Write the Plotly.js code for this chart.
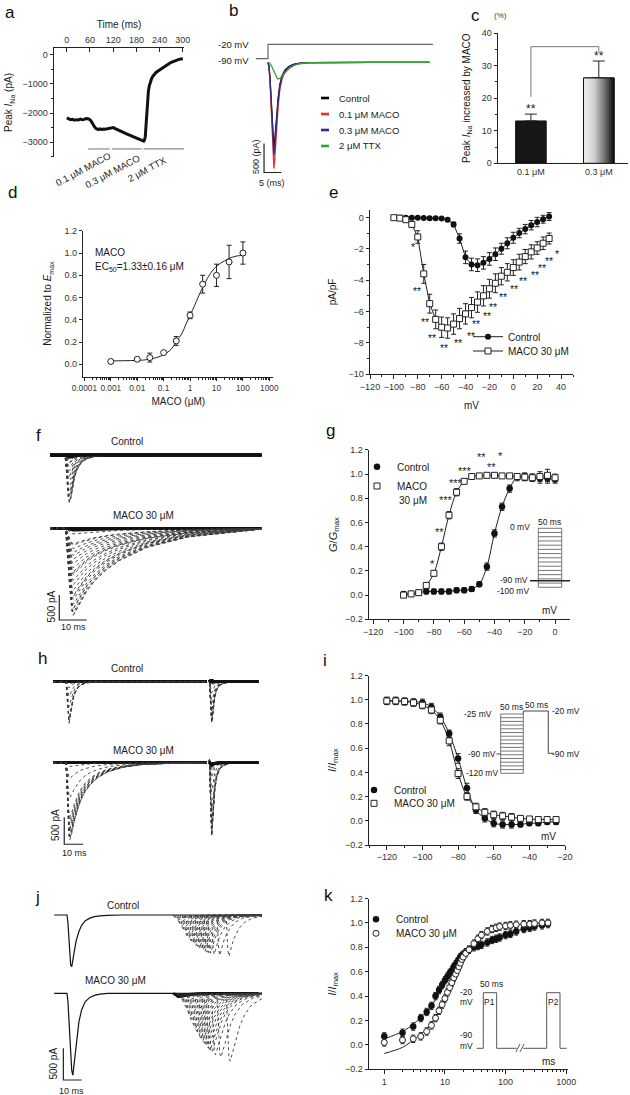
<!DOCTYPE html>
<html>
<head>
<meta charset="utf-8">
<script src="https://cdn.plot.ly/plotly-3.0.1.min.js"></script>
<style>
html,body{margin:0;padding:0;background:#ffffff;}
#fig{width:630px;height:1095px;}
</style>
</head>
<body>
<div id="fig"></div>
<script>
// ================= DATA =================
// (a) peak INa time course
const aTime = [0,5,10,15,20,25,30,35,40,45,50,55,60,63,66,69,72,75,78,81,85,90,95,100,105,110,115,118,121,124,128,132,136,140,145,150,155,160,165,170,175,180,185,190,194,197,199,201,203,205,207,209,211,213,216,219,222,226,230,235,240,245,250,255,260,265,270,275,280,285,290,295,300];
const aPeakINa = [-2170,-2210,-2230,-2220,-2250,-2230,-2240,-2210,-2230,-2220,-2190,-2200,-2230,-2280,-2360,-2430,-2480,-2530,-2560,-2570,-2550,-2570,-2550,-2560,-2540,-2530,-2510,-2490,-2500,-2530,-2560,-2590,-2620,-2640,-2660,-2690,-2720,-2750,-2780,-2810,-2840,-2870,-2890,-2920,-2940,-2960,-2970,-2930,-2800,-2400,-1900,-1500,-1250,-1080,-930,-820,-740,-670,-610,-560,-510,-470,-420,-380,-330,-290,-250,-220,-190,-160,-150,-140,-130];
const aDrugLabels = ['0.1 μM MACO','0.3 μM MACO','2 μM TTX'];
const aDrugStart = [55,117,198];
const aDrugEnd = [111,194,303];

// (b) representative INa traces (ms, pA) and command step (ms, mV)
const bNames = ['Control','0.1 μM MACO','0.3 μM MACO','2 μM TTX'];
const bTime = [0,0.3,0.6,0.9,1.2,1.5,1.7,1.9,2.2,2.5,2.9,3.4,4.0,4.9,6.0,7.3,9.2,12,20,30,46.5];
const bControl = [0,-74,-296,-666,-1066,-1376,-1480,-1376,-1110,-888,-622,-385,-237,-133,-74,-37,-15,-6,0,0,0];
const bMaco01 = [0,-92,-366,-824,-1318,-1702,-1830,-1702,-1373,-1098,-769,-476,-293,-165,-92,-46,-18,-7,0,0,0];
const bMaco03 = [0,-80,-320,-720,-1152,-1488,-1600,-1488,-1200,-960,-672,-416,-256,-144,-80,-40,-16,-6,0,0,0];
const bTtxTime = [0,0.5,1,1.5,2,2.5,2.9,3.4,4,5,6,7.5,9,12,20,30,46.5];
const bTtx = [0,-15,-60,-130,-200,-260,-288,-275,-240,-170,-110,-55,-25,-8,0,0,0];
const bCmdTime = [-3.5,0,0,47.5];
const bCmdVolt = [-90,-90,-20,-20];

// (c) % increase of peak INa
const cDose = ['0.1 μM','0.3 μM'];
const cIncrease = [13.0,26.2];
const cSEM = [2.1,5.2];
const cSig = ['**','**'];
const cSigBetween = '##';

// (d) concentration-response
const dConc = [0.001,0.01,0.03,0.1,0.3,1,3,10,30,100];
const dNorm = [0.025,0.045,0.06,0.105,0.21,0.44,0.72,0.80,0.92,1.0];
const dSEM = [0.015,0.015,0.04,0.01,0.04,0.03,0.08,0.10,0.15,0.10];
const dFitConc = [0.001,0.003,0.01,0.03,0.1,0.2,0.3,0.5,0.7,1,1.5,2,3,5,7,10,20,50,100,130];
const dFitNorm = [0.03,0.032,0.035,0.045,0.085,0.14,0.2,0.28,0.36,0.44,0.53,0.6,0.69,0.79,0.84,0.88,0.93,0.97,0.98,0.985];

// (e) I-V relationship (pA/pF)
const eVolt = [-100,-95,-90,-85,-80,-75,-70,-65,-60,-55,-50,-45,-40,-35,-30,-25,-20,-15,-10,-5,0,5,10,15,20,25,30];
const eCtrl = [-0.02,-0.03,-0.02,-0.03,-0.03,-0.04,-0.05,-0.06,-0.08,-0.15,-0.45,-1.35,-2.55,-3.0,-3.05,-2.9,-2.65,-2.35,-2.0,-1.65,-1.3,-1.0,-0.75,-0.5,-0.3,-0.12,0.05];
const eCtrlSEM = [0.05,0.05,0.05,0.05,0.05,0.05,0.05,0.05,0.05,0.08,0.15,0.3,0.4,0.4,0.4,0.4,0.4,0.4,0.35,0.35,0.35,0.3,0.3,0.3,0.3,0.25,0.25];
const eMaco = [-0.02,-0.05,-0.15,-0.45,-1.25,-3.6,-5.5,-6.5,-7.0,-7.05,-6.8,-6.45,-6.15,-5.75,-5.4,-5.0,-4.55,-4.2,-3.75,-3.5,-3.2,-2.85,-2.5,-2.2,-1.95,-1.65,-1.35];
const eMacoSEM = [0.1,0.1,0.15,0.2,0.4,0.6,0.6,0.6,0.65,0.65,0.65,0.65,0.65,0.65,0.65,0.65,0.6,0.6,0.55,0.55,0.5,0.5,0.45,0.45,0.4,0.4,0.35];

// (f) current families (template time course, ms; normalized shape)
const fTime = [-5.5,0,0.4,0.8,1.2,1.6,2.0,2.5,3,3.5,4.5,6,8,11,15,20,30,45,72];
const fCtrlShape = [0,0,-0.25,-0.6,-0.88,-1,-0.95,-0.8,-0.62,-0.47,-0.3,-0.16,-0.08,-0.03,-0.01,0,0,0,0];
const fMacoShape = [0,0,-0.08,-0.22,-0.42,-0.62,-0.8,-0.94,-1,-0.98,-0.92,-0.83,-0.72,-0.6,-0.48,-0.37,-0.22,-0.1,-0.01];
const fCtrlPeakPA = 950;
const fMacoPeakPA = 1740;

// (g) activation curves
const gVolt = [-100,-95,-90,-85,-80,-75,-70,-65,-60,-55,-50,-45,-40,-35,-30,-25,-20,-15,-10,-5,0];
const gCtrl = [0.01,0.01,0.02,0.03,0.03,0.03,0.03,0.04,0.04,0.05,0.09,0.235,0.51,0.73,0.88,0.975,0.98,0.97,0.965,0.965,0.955];
const gCtrlSEM = [0.02,0.02,0.02,0.02,0.02,0.02,0.02,0.02,0.02,0.02,0.02,0.03,0.03,0.03,0.03,0.03,0.03,0.03,0.04,0.04,0.03];
const gMaco = [0.0,0.01,0.02,0.08,0.18,0.40,0.66,0.85,0.94,0.98,0.985,0.99,0.99,0.985,0.985,0.98,0.975,0.97,0.98,0.99,0.97];
const gMacoSEM = [0.02,0.02,0.02,0.02,0.02,0.03,0.03,0.03,0.02,0.02,0.02,0.02,0.02,0.02,0.02,0.02,0.03,0.03,0.04,0.05,0.03];

// (h) inactivation protocol traces
const hP1Time = [-6.7,0,0.4,0.8,1.2,1.6,2.0,2.6,3.2,4,5,6.5,8,10,13,17,22,30,40,55,74];
const hCtrlP1Shape = [0,0,-0.25,-0.6,-0.9,-1,-0.92,-0.72,-0.55,-0.38,-0.25,-0.14,-0.08,-0.04,-0.015,-0.005,0,0,0,0,0];
const hMacoP1Shape = [0,0,-0.2,-0.5,-0.8,-0.95,-1,-0.96,-0.9,-0.8,-0.7,-0.58,-0.48,-0.38,-0.28,-0.19,-0.12,-0.06,-0.025,-0.008,0];
const hCtrlP1Frac = [0,0,0,0,0,0,0,0,0,0,0,0,0.05,0.15,0.35,0.6,0.85,1,0.98,0.92];
const hMacoP1Frac = [0,0,0,0,0,0,0,0.05,0.2,0.45,0.7,0.85,0.95,1,0.98,0.95,0.9,0.85,0.8,0.75];
const hP2Time = [0,0.3,0.6,1.0,1.4,1.8,2.3,3,4,5.5,7.5,10,14,20,26];
const hP2Shape = [0,0.06,-0.3,-0.75,-1,-0.85,-0.6,-0.38,-0.2,-0.09,-0.04,-0.015,-0.005,0,0];
const hP2Onset = 75.3;
const hCtrlP1PeakPA = 770, hCtrlP2PeakPA = 765, hMacoP1PeakPA = 1430, hMacoP2PeakPA = 1370;

// (i) steady-state inactivation
const iVolt = [-120,-115,-110,-105,-100,-95,-90,-85,-80,-75,-70,-65,-60,-55,-50,-45,-40,-35,-30,-25];
const iCtrl = [0.99,0.99,0.99,0.985,0.975,0.94,0.86,0.72,0.515,0.27,0.09,0.02,-0.02,-0.03,-0.03,-0.03,-0.02,-0.02,-0.01,-0.01];
const iCtrlSEM = [0.03,0.03,0.02,0.02,0.03,0.03,0.03,0.03,0.04,0.04,0.03,0.03,0.03,0.03,0.03,0.02,0.02,0.02,0.02,0.02];
const iMaco = [0.99,0.99,0.985,0.975,0.955,0.915,0.83,0.66,0.39,0.2,0.115,0.07,0.05,0.04,0.03,0.02,0.015,0.01,0.01,0.01];
const iMacoSEM = [0.03,0.03,0.03,0.03,0.03,0.03,0.03,0.04,0.04,0.03,0.03,0.03,0.03,0.03,0.03,0.02,0.02,0.02,0.02,0.02];

// (j) recovery protocol traces
const jP1Time = [-7,0,0.5,1,1.5,2,2.6,3.2,4,5,6.5,8,10,12.5,15,18,22,30,57];
const jCtrlP1Shape = [0,0,-0.15,-0.45,-0.8,-0.97,-1,-0.9,-0.7,-0.5,-0.32,-0.2,-0.11,-0.06,-0.03,-0.015,-0.005,0,0];
const jMacoP1Shape = [0,0,-0.1,-0.3,-0.55,-0.8,-0.95,-1,-0.85,-0.6,-0.35,-0.2,-0.1,-0.05,-0.025,-0.01,0,0,0];
const jP2Time = [0,0.4,0.9,1.5,2.2,3,4,5.5,7.5,10,14,20,30,40];
const jCtrlP2Shape = [0,-0.4,-0.85,-1,-0.9,-0.75,-0.6,-0.45,-0.3,-0.18,-0.08,-0.03,-0.01,0];
const jMacoP2Shape = [0,-0.3,-0.7,-0.95,-1,-0.92,-0.8,-0.65,-0.48,-0.32,-0.17,-0.07,-0.02,0];
const jP1Duration = 57, jEnd = 104.5, jShownMaxInterval = 30;
const jCtrlPeakPA = 815, jMacoPeakPA = 1290;

// (k) recovery from inactivation
const kTime = [1,2,3,4,5,6,7,8,9,10,11,12,13,14,15,16,17,18,19,20,22,25,30,35,40,50,60,70,80,100,120,150,200,250,300,400,500];
const kCtrl = [0.07,0.10,0.15,0.22,0.27,0.32,0.40,0.45,0.49,0.53,0.56,0.59,0.61,0.64,0.66,0.68,0.70,0.72,0.73,0.74,0.76,0.78,0.80,0.81,0.82,0.84,0.86,0.87,0.88,0.90,0.91,0.93,0.95,0.96,0.97,0.98,0.99];
const kMaco = [0.02,0.04,0.05,0.07,0.11,0.16,0.22,0.28,0.33,0.38,0.43,0.47,0.51,0.55,0.58,0.61,0.64,0.67,0.70,0.72,0.75,0.78,0.83,0.87,0.90,0.93,0.95,0.96,0.97,0.975,0.98,0.985,0.99,0.99,0.995,1.0,1.0];
const kSEM = 0.03;
const kFitTime = [1,2,3,5,7,10,15,20,30,50,100,200,500];
const kCtrlFit = [0.05,0.11,0.17,0.27,0.37,0.5,0.63,0.71,0.79,0.85,0.91,0.95,0.99];
const kMacoFit = [-0.07,-0.02,0.04,0.13,0.23,0.38,0.57,0.69,0.82,0.92,0.97,0.99,1.0];

// ================= BUILD =================
const W = 630, H = 1095;
const FONT = 'Liberation Sans, Arial, Helvetica, sans-serif';
const INK = '#1a1a1a';
const px = x => x / W;
const py = y => 1 - y / H;
const xd = (a, b) => [a / W, b / W];
const yd = (t, b) => [1 - b / H, 1 - t / H];

const traces = [], shapes = [], annotations = [];
function note(text, x, y, o) {
  o = o || {};
  const font = Object.assign({family: FONT, size: 10, color: INK}, o.font || {});
  const a = Object.assign({text: text, x: px(x), y: py(y), xref: 'paper', yref: 'paper', showarrow: false, xanchor: 'center', yanchor: 'middle'}, o);
  a.font = font;
  annotations.push(a);
}
function dnote(text, xr, yr, x, y, o) {
  o = o || {};
  const font = Object.assign({family: FONT, size: 10, color: INK}, o.font || {});
  const a = Object.assign({text: text, x: x, y: y, xref: xr, yref: yr, showarrow: false, xanchor: 'center', yanchor: 'middle'}, o);
  a.font = font;
  annotations.push(a);
}
function pth(pts) { return pts.map(p => p[0] + px(p[1]).toFixed(5) + ',' + py(p[2]).toFixed(5)).join(' '); }
function pshape(pts, color, width) {
  shapes.push({type: 'path', xref: 'paper', yref: 'paper', path: pth(pts), line: {color: color || '#444', width: width || 1}});
}
function hatch(x0, y0, x1, y1, n, color) {
  let s = pth([['M', x0, y0], ['L', x1, y0], ['L', x1, y1], ['L', x0, y1]]) + ' Z';
  for (let k = 1; k < n; k++) {
    const y = y0 + k * (y1 - y0) / n;
    s += ' ' + pth([['M', x0, y], ['L', x1, y]]);
  }
  shapes.push({type: 'path', xref: 'paper', yref: 'paper', path: s, line: {color: color || '#555', width: 0.8}});
}
const base = {showlegend: false, hoverinfo: 'skip'};
const L = (o) => Object.assign({}, base, o);

// ---- panel letters
[['a',10,13],['b',233,10],['c',475,15],['d',12,193],['e',333,193],['f',38,435],['g',330,430],['h',43,658],['i',325,660],['j',37,897],['k',328,895]]
  .forEach(l => note(l[0], l[1], l[2], {font: {size: 17, color: '#111'}}));

// ---- (a)
traces.push(L({x: aTime, y: aPeakINa, xaxis: 'x', yaxis: 'y', mode: 'lines', line: {color: '#111', width: 3}}));
const aBarLevel = -3240;
aDrugStart.forEach((s, i) => shapes.push({type: 'line', xref: 'x', yref: 'y', x0: s, x1: aDrugEnd[i], y0: aBarLevel, y1: aBarLevel, line: {color: '#8a8a8a', width: 1.2}}));
const aLabelPos = [[82.5,169.5],[112,171],[146.5,169.5]];
aDrugLabels.forEach((t, i) => note(t, aLabelPos[i][0], aLabelPos[i][1], {textangle: -28, font: {size: 9.5}}));

// ---- (b)
traces.push(L({x: bCmdTime, y: bCmdVolt, xaxis: 'x2', yaxis: 'y3', mode: 'lines', line: {color: '#666', width: 1.2}}));
const bColors = ['#000000','#f02a2a','#2e2e8c','#37a237'];
const bSeries = [[bTime, bControl], [bTime, bMaco01], [bTime, bMaco03], [bTtxTime, bTtx]];
bSeries.forEach((s, i) => traces.push(L({x: s[0], y: s[1], name: bNames[i], xaxis: 'x2', yaxis: 'y2', mode: 'lines', line: {color: bColors[i], width: 1.3}})));
const bBar = {t: -1.15, i: -1900, dI: 500, dT: 5};
traces.push(L({x: [bBar.t, bBar.t, bBar.t + bBar.dT], y: [bBar.i + bBar.dI, bBar.i, bBar.i], xaxis: 'x2', yaxis: 'y2', mode: 'lines', line: {color: '#222', width: 1.2}}));
note('-20 mV', 233, 44, {font: {size: 9.5}});
note('-90 mV', 233, 60, {font: {size: 9.5}});
note('500 (pA)', 256, 157, {textangle: -90, font: {size: 9}});
note('5 (ms)', 272, 183, {font: {size: 9}});
const bLegY = [98, 114, 130, 146];
bNames.forEach((n, i) => {
  shapes.push({type: 'line', xref: 'paper', yref: 'paper', x0: px(321), x1: px(329), y0: py(bLegY[i]), y1: py(bLegY[i]), line: {color: bColors[i], width: 2.6}});
  note(n, 337, bLegY[i], {xanchor: 'left', font: {size: 9.5}});
});

// ---- (c)
const cPos = cDose.map((_, i) => i + 1);
const cBarW = 0.45;
traces.push(L({type: 'bar', x: cPos, y: cIncrease, xaxis: 'x3', yaxis: 'y4', width: cBarW,
  marker: {color: ['#161616', 'rgba(0,0,0,0)'], line: {color: '#111', width: 1}},
  error_y: {type: 'data', symmetric: false, array: cSEM, arrayminus: cSEM.map(() => 0), color: '#222', thickness: 1, width: 6}}));
traces.push(L({x: [cPos[1] - cBarW / 2, cPos[1] + cBarW / 2, cPos[1] + cBarW / 2, cPos[1] - cBarW / 2, cPos[1] - cBarW / 2],
  y: [0, 0, cIncrease[1], cIncrease[1], 0], xaxis: 'x3', yaxis: 'y4', mode: 'lines', fill: 'toself',
  fillgradient: {type: 'horizontal', colorscale: [[0, '#f2f2f2'], [0.35, '#cfcfcf'], [0.7, '#6e6e6e'], [1, '#0c0c0c']]},
  line: {color: '#111', width: 1}}));
cSig.forEach((s, i) => dnote(s, 'x3', 'y4', cPos[i], cIncrease[i] + cSEM[i] + 2.4, {yshift: -3, font: {size: 12}}));
shapes.push({type: 'path', xref: 'x3', yref: 'y4', path: 'M1,20.4 L1,35.8 L2,35.8 L2,34.2', line: {color: '#777', width: 1}});
dnote(cSigBetween, 'x3', 'y4', 1.5, 41.3, {font: {size: 9, color: '#666'}});
note('(%)', 501, 16, {font: {size: 8, color: '#444'}});

// ---- (d)
traces.push(L({x: dFitConc, y: dFitNorm, xaxis: 'x4', yaxis: 'y5', mode: 'lines', line: {color: '#222', width: 1, shape: 'spline'}}));
traces.push(L({x: dConc, y: dNorm, xaxis: 'x4', yaxis: 'y5', mode: 'markers',
  marker: {symbol: 'circle', size: 6, color: '#fff', line: {color: '#222', width: 1}},
  error_y: {type: 'data', array: dSEM, color: '#222', thickness: 1, width: 2.5}}));
note('MACO', 93, 253, {xanchor: 'left', font: {size: 10}});
note('EC<sub>50</sub>=1.33±0.16 μM', 93, 267, {xanchor: 'left', font: {size: 10}});

// ---- (e)
traces.push({x: eVolt, y: eCtrl, name: 'Control', legend: 'legend', xaxis: 'x5', yaxis: 'y6', mode: 'lines+markers', hoverinfo: 'skip',
  line: {color: '#222', width: 1}, marker: {symbol: 'circle', size: 6, color: '#111'},
  error_y: {type: 'data', array: eCtrlSEM, color: '#222', thickness: 1, width: 2.5}});
traces.push({x: eVolt, y: eMaco, name: 'MACO 30 μM', legend: 'legend2', xaxis: 'x5', yaxis: 'y6', mode: 'lines+markers', hoverinfo: 'skip',
  line: {color: '#222', width: 1}, marker: {symbol: 'square', size: 6, color: '#fff', line: {color: '#222', width: 1}},
  error_y: {type: 'data', array: eMacoSEM, color: '#222', thickness: 1, width: 2.5}});
const eStars = [[-84,-1.7,'*'],[-81,-4.5,'**'],[-74,-6.5,'**'],[-68.4,-7.5,'**'],[-58,-8.15,'**'],[-46.4,-7.8,'**'],[-35.5,-7.4,'**'],[-31.5,-6.6,'**'],[-21.8,-6.1,'**'],[-16.8,-5.55,'**'],[-8.5,-4.9,'**'],[0.5,-4.4,'**'],[8.3,-3.85,'**'],[18.1,-3.5,'**'],[24,-3.05,'**'],[30,-2.6,'**'],[37,-2.15,'*']];
eStars.forEach(s => dnote(s[2], 'x5', 'y6', s[0], s[1], {yshift: -3, font: {size: 10.5}}));

// ---- sweep helper for raw-current families
const DOT = {color: '#3a3a3a', width: 0.9, dash: 'dot'};
const SOLID = {color: '#111', width: 2.6};
function sweep(xa, ya, xs, ys, frac) {
  traces.push(L({x: xs, y: ys, xaxis: xa, yaxis: ya, mode: 'lines', line: Math.abs(frac) < 0.05 ? SOLID : DOT}));
}

// ---- (f)
const eCtrlMin = Math.min.apply(null, eCtrl), eMacoMin = Math.min.apply(null, eMaco);
eCtrl.forEach(v => { const fr = v / eCtrlMin; sweep('x6', 'y7', fTime, fCtrlShape.map(s => s * fr * fCtrlPeakPA), fr); });
eMaco.forEach(v => { const fr = v / eMacoMin; sweep('x6', 'y8', fTime, fMacoShape.map(s => s * fr * fMacoPeakPA), fr); });
const fBar = {t: -2.1, i: -1834, dI: 500, dT: 10};
traces.push(L({x: [fBar.t, fBar.t, fBar.t + fBar.dT], y: [fBar.i + fBar.dI, fBar.i, fBar.i], xaxis: 'x6', yaxis: 'y8', mode: 'lines', line: {color: '#222', width: 1.2}}));
note('Control', 126.7, 441.7);
note('MACO 30 μM', 143.3, 515);
note('500 pA', 51.7, 606.7, {textangle: -90});
note('10 ms', 73.3, 627.3, {font: {size: 9}});

// ---- (g)
traces.push(L({x: gVolt, y: gCtrl, xaxis: 'x7', yaxis: 'y9', mode: 'lines', line: {color: '#222', width: 1, shape: 'spline'}}));
traces.push(L({x: gVolt, y: gMaco, xaxis: 'x7', yaxis: 'y9', mode: 'lines', line: {color: '#222', width: 1, shape: 'spline'}}));
traces.push({x: gVolt, y: gCtrl, name: 'Control', legend: 'legend3', xaxis: 'x7', yaxis: 'y9', mode: 'markers', hoverinfo: 'skip',
  marker: {symbol: 'circle', size: 6.5, color: '#111'}, error_y: {type: 'data', array: gCtrlSEM, color: '#222', thickness: 1, width: 2.5}});
traces.push({x: gVolt, y: gMaco, name: 'MACO', legend: 'legend4', xaxis: 'x7', yaxis: 'y9', mode: 'markers', hoverinfo: 'skip',
  marker: {symbol: 'square', size: 6, color: '#fff', line: {color: '#222', width: 1}}, error_y: {type: 'data', array: gMacoSEM, color: '#222', thickness: 1, width: 2.5}});
note('30 μM', 397, 500, {xanchor: 'left'});
const gStars = [[-48.4,1.163,'**'],[-35.9,1.171,'*'],[-41.8,1.08,'**'],[-59.5,1.047,'***'],[-65.4,0.95,'***'],[-72,0.81,'***'],[-76.4,0.545,'**'],[-80.8,0.28,'*']];
gStars.forEach(s => dnote(s[2], 'x7', 'y9', s[0], s[1], {yshift: -3, font: {size: 11}}));
hatch(538.3, 528.3, 561.7, 587.3, 14, '#555');
pshape([['M', 530, 580.7], ['L', 570, 580.7]], '#222', 1.5);
note('0 mV', 520, 526.7, {font: {size: 8.5}});
note('50 ms', 549.3, 522, {font: {size: 8.5}});
note('-90 mV', 514, 580, {font: {size: 8.5}});
note('-100 mV', 512.5, 590.5, {font: {size: 8.5}});
note('mV', 549.3, 610, {font: {size: 10}});

// ---- (h)
iVolt.forEach((v, i) => {
  const a1 = hCtrlP1Frac[i], a2 = iCtrl[i];
  sweep('x8', 'y10', hP1Time, hCtrlP1Shape.map(s => s * a1 * hCtrlP1PeakPA), a1);
  sweep('x8', 'y10', hP2Time.map(t => t + hP2Onset), hP2Shape.map(s => s * a2 * hCtrlP2PeakPA), a2);
  const m1 = hMacoP1Frac[i], m2 = iMaco[i];
  sweep('x8', 'y11', hP1Time, hMacoP1Shape.map(s => s * m1 * hMacoP1PeakPA), m1);
  sweep('x8', 'y11', hP2Time.map(t => t + hP2Onset), hP2Shape.map(s => s * m2 * hMacoP2PeakPA), m2);
});
const hBar = {t: -0.9, i: -1511, dI: 500, dT: 10};
traces.push(L({x: [hBar.t, hBar.t, hBar.t + hBar.dT], y: [hBar.i + hBar.dI, hBar.i, hBar.i], xaxis: 'x8', yaxis: 'y11', mode: 'lines', line: {color: '#222', width: 1.2}}));
note('Control', 126.7, 668.3);
note('MACO 30 μM', 143.3, 750);
note('500 pA', 55, 825, {textangle: -90});
note('10 ms', 74, 853.3, {font: {size: 9}});

// ---- (i)
traces.push(L({x: iVolt, y: iCtrl, xaxis: 'x9', yaxis: 'y12', mode: 'lines', line: {color: '#222', width: 1, shape: 'spline'}}));
traces.push(L({x: iVolt, y: iMaco, xaxis: 'x9', yaxis: 'y12', mode: 'lines', line: {color: '#222', width: 1, shape: 'spline'}}));
traces.push({x: iVolt, y: iCtrl, name: 'Control', legend: 'legend5', xaxis: 'x9', yaxis: 'y12', mode: 'markers', hoverinfo: 'skip',
  marker: {symbol: 'circle', size: 6.5, color: '#111'}, error_y: {type: 'data', array: iCtrlSEM, color: '#222', thickness: 1, width: 2.5}});
traces.push({x: iVolt, y: iMaco, name: 'MACO 30 μM', legend: 'legend6', xaxis: 'x9', yaxis: 'y12', mode: 'markers', hoverinfo: 'skip',
  marker: {symbol: 'square', size: 6, color: '#fff', line: {color: '#222', width: 1}}, error_y: {type: 'data', array: iMacoSEM, color: '#222', thickness: 1, width: 2.5}});
hatch(500.7, 714, 523.3, 773.3, 16, '#555');
pshape([['M', 523.3, 714], ['L', 523.3, 711], ['L', 548.3, 711], ['L', 548.3, 753.3], ['L', 554, 753.3]], '#444', 1);
pshape([['M', 496.5, 754], ['L', 500.7, 754]], '#444', 1);
note('-25 mV', 478.3, 714, {font: {size: 8.5}});
note('50 ms', 511.5, 706.5, {font: {size: 8.5}});
note('50 ms', 536, 704.5, {font: {size: 8.5}});
note('-20 mV', 566, 711, {font: {size: 8.5}});
note('-90 mV', 481.7, 754, {font: {size: 8.5}});
note('-120 mV', 481.7, 772.7, {font: {size: 8.5}});
note('-90 mV', 566, 754, {font: {size: 8.5}});
note('mV', 548.3, 836.7, {font: {size: 10}});

// ---- (j)
traces.push(L({x: jP1Time.concat([jEnd]), y: jCtrlP1Shape.map(s => s * jCtrlPeakPA).concat([0]), xaxis: 'x10', yaxis: 'y13', mode: 'lines', line: {color: '#111', width: 1.2}}));
traces.push(L({x: jP1Time.concat([jEnd]), y: jMacoP1Shape.map(s => s * jMacoPeakPA).concat([0]), xaxis: 'x10', yaxis: 'y14', mode: 'lines', line: {color: '#111', width: 1.2}}));
kTime.forEach((d, i) => {
  if (d > jShownMaxInterval) return;
  const on = jP1Duration + d;
  sweep('x10', 'y13', jP2Time.map(t => t + on).concat([jEnd]), jCtrlP2Shape.map(s => s * kCtrl[i] * jCtrlPeakPA).concat([0]), kCtrl[i]);
  sweep('x10', 'y14', jP2Time.map(t => t + on).concat([jEnd]), jMacoP2Shape.map(s => s * kMaco[i] * jMacoPeakPA).concat([0]), kMaco[i]);
});
const jBar = {t: -2.0, i: -1367, dI: 500, dT: 10};
traces.push(L({x: [jBar.t, jBar.t, jBar.t + jBar.dT], y: [jBar.i + jBar.dI, jBar.i, jBar.i], xaxis: 'x10', yaxis: 'y14', mode: 'lines', line: {color: '#222', width: 1.2}}));
note('Control', 123.3, 905);
note('MACO 30 μM', 115, 980.7);
note('500 pA', 53.3, 1063.3, {textangle: -90});
note('10 ms', 71.7, 1091, {font: {size: 9}});

// ---- (k)
traces.push(L({x: kFitTime, y: kCtrlFit, xaxis: 'x11', yaxis: 'y15', mode: 'lines', line: {color: '#222', width: 1, shape: 'spline'}}));
traces.push(L({x: kFitTime, y: kMacoFit, xaxis: 'x11', yaxis: 'y15', mode: 'lines', line: {color: '#222', width: 1, shape: 'spline'}}));
traces.push({x: kTime, y: kCtrl, name: 'Control', legend: 'legend7', xaxis: 'x11', yaxis: 'y15', mode: 'markers', hoverinfo: 'skip',
  marker: {symbol: 'circle', size: 6.5, color: '#111'}, error_y: {type: 'constant', value: kSEM, color: '#222', thickness: 1, width: 2}});
traces.push({x: kTime, y: kMaco, name: 'MACO 30 μM', legend: 'legend8', xaxis: 'x11', yaxis: 'y15', mode: 'markers', hoverinfo: 'skip',
  marker: {symbol: 'circle', size: 6, color: '#fff', line: {color: '#222', width: 1}}, error_y: {type: 'constant', value: kSEM, color: '#222', thickness: 1, width: 2}});
pshape([['M', 476.7, 1048.3], ['L', 483.3, 1048.3], ['L', 483.3, 992.7], ['L', 496.7, 992.7], ['L', 496.7, 1048.3], ['L', 516.7, 1048.3],
        ['M', 523.3, 1048.3], ['L', 546.7, 1048.3], ['L', 546.7, 992.7], ['L', 560, 992.7], ['L', 560, 1048.3], ['L', 566.7, 1048.3]], '#555', 1);
pshape([['M', 516, 1052], ['L', 520, 1044], ['M', 520, 1052], ['L', 524, 1044]], '#555', 1);
note('-20', 466.7, 991.7, {font: {size: 8.5}});
note('mV', 466.7, 1001.7, {font: {size: 8.5}});
note('50 ms', 491.7, 984.3, {font: {size: 8.5}});
note('P1', 489.8, 1001.7, {font: {size: 8.5}});
note('-90', 466, 1035, {font: {size: 8.5}});
note('mV', 466, 1046, {font: {size: 8.5}});
note('P2', 553.3, 1001.7, {font: {size: 8.5}});
note('ms', 548.3, 1061.7, {font: {size: 10}});

// ================= AXES =================
const TF = {family: FONT, size: 9, color: '#333'};
function ax(o) {
  return Object.assign({showline: true, linecolor: '#222', linewidth: 1, ticks: 'outside', ticklen: 3.5, tickwidth: 1, tickcolor: '#222',
    showgrid: false, zeroline: false, fixedrange: true, automargin: false, tickangle: 0, tickfont: TF}, o);
}
function hid(o) { return Object.assign({visible: false, showgrid: false, zeroline: false, fixedrange: true}, o); }
function ttl(text, standoff, size) { return {text: text, standoff: standoff, font: {family: FONT, size: size || 10, color: INK}}; }
const MINOR = (d) => ({dtick: d, ticks: 'outside', ticklen: 2, tickwidth: 1, tickcolor: '#222', showgrid: false});
const logMinor = (lo, hi) => { const v = []; for (let e = lo; e <= hi; e++) for (let m = 2; m <= 9; m++) v.push(m * Math.pow(10, e)); return v; };

function legAt(textX, y, yanchor) {
  return {x: px(textX - 40), y: py(y), xanchor: 'left', yanchor: yanchor || 'middle', bgcolor: 'rgba(0,0,0,0)', borderwidth: 0,
    font: {family: FONT, size: 10, color: INK}, itemwidth: 30, tracegroupgap: 0, orientation: 'v'};
}

const layout = {
  width: W, height: H, margin: {l: 0, r: 0, t: 0, b: 0}, paper_bgcolor: '#fff', plot_bgcolor: 'rgba(0,0,0,0)',
  font: {family: FONT, size: 10, color: INK}, showlegend: true,
  // (a)
  xaxis: ax({domain: xd(54, 184), anchor: 'y', side: 'top', range: [-33, 303], dtick: 60, tick0: 0, ticks: 'inside', title: ttl('Time (ms)', 4)}),
  yaxis: ax({domain: yd(48, 157), anchor: 'x', range: [-3517, 241], dtick: 1000, minor: MINOR(500), title: ttl('Peak <i>I</i><sub>Na</sub> (pA)', 7)}),
  // (b)
  xaxis2: hid({domain: xd(255, 435), anchor: 'y2', range: [-3.75, 48.1]}),
  yaxis2: hid({domain: yd(35, 185), anchor: 'x2', range: [-2116, 471]}),
  yaxis3: hid({overlaying: 'y2', anchor: 'x2', range: [-704, 25.2]}),
  // (c)
  xaxis3: ax({domain: xd(498, 628), anchor: 'y4', range: [0.515, 2.43], tickmode: 'array', tickvals: cPos, ticktext: cDose, ticks: ''}),
  yaxis4: ax({domain: yd(33, 163.3), anchor: 'x3', range: [0, 40], dtick: 10, minor: MINOR(5), title: ttl('Peak <i>I</i><sub>Na</sub> increased by MACO', 9)}),
  // (d)
  xaxis4: ax({domain: xd(83.3, 273.3), anchor: 'y5', type: 'log', range: [-4.04, 3.15], tickmode: 'array',
    tickvals: [0.0001, 0.001, 0.01, 0.1, 1, 10, 100, 1000], ticktext: ['0.0001', '0.001', '0.01', '0.1', '1', '10', '100', '1000'],
    tickfont: {family: FONT, size: 8.3, color: '#333'},
    minor: {tickmode: 'array', tickvals: logMinor(-4, 2), ticks: 'outside', ticklen: 2, tickcolor: '#222'}, title: ttl('MACO (μM)', 6)}),
  yaxis5: ax({domain: yd(230.8, 376.5), anchor: 'x4', range: [-0.11, 1.2], dtick: 0.2, tick0: 0, tickformat: '.1f', title: ttl('Normalized to <i>E</i><sub>max</sub>', 10)}),
  // (e)
  xaxis5: ax({domain: xd(370, 573), anchor: 'y6', range: [-120, 50], dtick: 20, tick0: 0, minor: MINOR(10), title: ttl('mV', 11)}),
  yaxis6: ax({domain: yd(209.5, 374.3), anchor: 'x5', range: [-10, 0.5], dtick: 2, tick0: 0, minor: MINOR(1), title: ttl('pA/pF', 9)}),
  // (f)
  xaxis6: hid({domain: xd(50, 265), anchor: 'y8', range: [-5.5, 73.3]}),
  yaxis7: hid({domain: yd(444, 508), anchor: 'x6', range: [-1060, 220]}),
  yaxis8: hid({domain: yd(515, 632), anchor: 'x6', range: [-2074, 266]}),
  // (g)
  xaxis7: ax({domain: xd(369, 570), anchor: 'y9', range: [-122.8, 9.85], dtick: 20, tick0: 0, minor: MINOR(10)}),
  yaxis9: ax({domain: yd(449.9, 619.3), anchor: 'x7', range: [-0.2, 1.2], dtick: 0.2, tick0: 0, tickformat: '.1f', title: ttl('<i>G</i>/<i>G</i><sub>max</sub>', 5, 11)}),
  // (h)
  xaxis8: hid({domain: xd(50, 262), anchor: 'y11', range: [-8.4, 103.2]}),
  yaxis10: hid({domain: yd(670, 728), anchor: 'x8', range: [-857, 217]}),
  yaxis11: hid({domain: yd(748, 848), anchor: 'x8', range: [-1580, 272]}),
  // (i)
  xaxis9: ax({domain: xd(369, 565), anchor: 'y12', range: [-130, -20], dtick: 20, tick0: 0, minor: MINOR(10)}),
  yaxis12: ax({domain: yd(675.5, 845), anchor: 'x9', range: [-0.2, 1.2], dtick: 0.2, tick0: 0, tickformat: '.1f', title: ttl('<i>I</i>/<i>I</i><sub>max</sub>', 6, 11)}),
  // (j)
  xaxis10: hid({domain: xd(50, 262), anchor: 'y14', range: [-9.3, 106.6]}),
  yaxis13: hid({domain: yd(900, 972), anchor: 'x10', range: [-899, 237]}),
  yaxis14: hid({domain: yd(985, 1085), anchor: 'x10', range: [-1446, 131]}),
  // (k)
  xaxis11: ax({domain: xd(369, 568), anchor: 'y15', type: 'log', range: [-0.252, 3.03], tickmode: 'array', tickvals: [1, 10, 100, 1000], ticktext: ['1', '10', '100', '1000'],
    minor: {tickmode: 'array', tickvals: logMinor(0, 2), ticks: 'outside', ticklen: 2, tickcolor: '#222'}}),
  yaxis15: ax({domain: yd(898.5, 1069.3), anchor: 'x11', range: [-0.2, 1.2], dtick: 0.2, tick0: 0, tickformat: '.1f', title: ttl('<i>I</i>/<i>I</i><sub>max</sub>', 6, 11)}),
  legend: legAt(508, 336.7),
  legend2: legAt(508, 351),
  legend3: legAt(397, 466.7),
  legend4: legAt(397, 486),
  legend5: legAt(394, 790),
  legend6: legAt(394, 803.3),
  legend7: legAt(396, 919.3),
  legend8: legAt(396, 933.3),
  shapes: shapes,
  annotations: annotations
};

Plotly.newPlot('fig', traces, layout, {displayModeBar: false, staticPlot: true});
</script>
</body>
</html>
